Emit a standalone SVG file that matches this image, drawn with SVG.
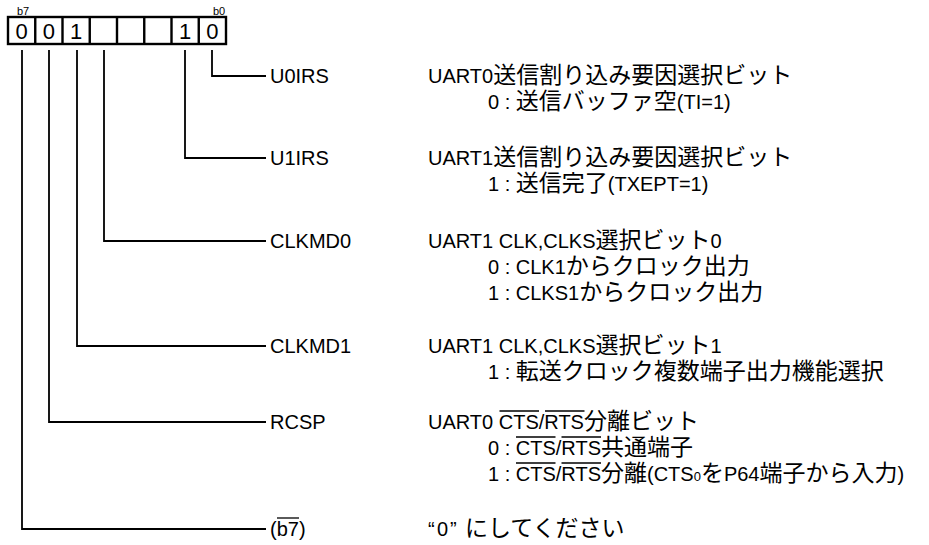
<svg xmlns="http://www.w3.org/2000/svg" width="929" height="545" viewBox="0 0 929 545">
<style>
text{font-family:'Liberation Sans','Noto Sans CJK JP',sans-serif;fill:#000;font-size:20px}
.j{font-family:'Noto Sans CJK JP','Liberation Sans',sans-serif;font-size:23px}
.d{font-size:22px;text-anchor:middle}
.s{font-size:11px}
.ln{fill:none;stroke:#000;stroke-width:1.8}
.bx{fill:none;stroke:#000;stroke-width:2.4}
.ov{fill:none;stroke:#000;stroke-width:1.3}
</style>
<rect width="929" height="545" fill="#fff"/>
<g id="register">
<text class="s" x="17" y="15">b7</text>
<text class="s" x="213" y="15">b0</text>
<rect class="bx" x="8" y="17" width="218" height="27"/>
<path class="bx" d="M35.25 17V44M62.5 17V44M89.75 17V44M117 17V44M144.25 17V44M171.5 17V44M198.75 17V44"/>
<text class="d" x="21.6" y="38.5">0</text>
<text class="d" x="48.9" y="38.5">0</text>
<text class="d" x="76.1" y="38.5">1</text>
<text class="d" x="185.1" y="38.5">1</text>
<text class="d" x="212.4" y="38.5">0</text>
</g>
<g id="connectors">
<path class="ln" d="M212 50V76H266"/>
<path class="ln" d="M185 50V158H266"/>
<path class="ln" d="M104 50V241H266"/>
<path class="ln" d="M77 50V346H266"/>
<path class="ln" d="M49 50V422H266"/>
<path class="ln" d="M22 50V529H266"/>
</g>
<g id="u0irs">
<text x="270" y="83">U0IRS</text>
<text x="428" y="83">UART0<tspan class="j">送信割り込み要因選択ビット</tspan></text>
<text x="488" y="109">0 : <tspan class="j">送信バッファ空</tspan>(TI=1)</text>
</g>
<g id="u1irs">
<text x="270" y="165">U1IRS</text>
<text x="428" y="165">UART1<tspan class="j">送信割り込み要因選択ビット</tspan></text>
<text x="488" y="191">1 : <tspan class="j">送信完了</tspan>(TXEPT=1)</text>
</g>
<g id="clkmd0">
<text x="270" y="248">CLKMD0</text>
<text x="428" y="248">UART1 CLK,CLKS<tspan class="j">選択ビット</tspan>0</text>
<text x="488" y="274">0 : CLK1<tspan class="j">からクロック出力</tspan></text>
<text x="488" y="300">1 : CLKS1<tspan class="j">からクロック出力</tspan></text>
</g>
<g id="clkmd1">
<text x="270" y="353">CLKMD1</text>
<text x="428" y="353">UART1 CLK,CLKS<tspan class="j">選択ビット</tspan>1</text>
<text x="488" y="379">1 : <tspan class="j">転送クロック複数端子出力機能選択</tspan></text>
</g>
<g id="rcsp">
<text x="270" y="429">RCSP</text>
<text x="428" y="429">UART0 CTS/RTS<tspan class="j">分離ビット</tspan></text>
<text x="488" y="455">0 : CTS/RTS<tspan class="j">共通端子</tspan></text>
<text x="488" y="481">1 : CTS/RTS<tspan class="j">分離</tspan>(CTS<tspan font-size="13">0</tspan><tspan class="j">を</tspan>P64<tspan class="j">端子から入力</tspan>)</text>
<path class="ov" d="M499.5 411H539M545 411H584.5M516 437H555.5M561.5 437H601M516 463H555.5M561.5 463H601"/>
</g>
<g id="b7">
<text x="270" y="536">(b7)</text>
<path class="ov" d="M277 518H299"/>
<text x="428" y="536">“<tspan x="437">0</tspan><tspan x="450">”</tspan><tspan class="j" x="465">にしてください</tspan></text>
</g>
</svg>
